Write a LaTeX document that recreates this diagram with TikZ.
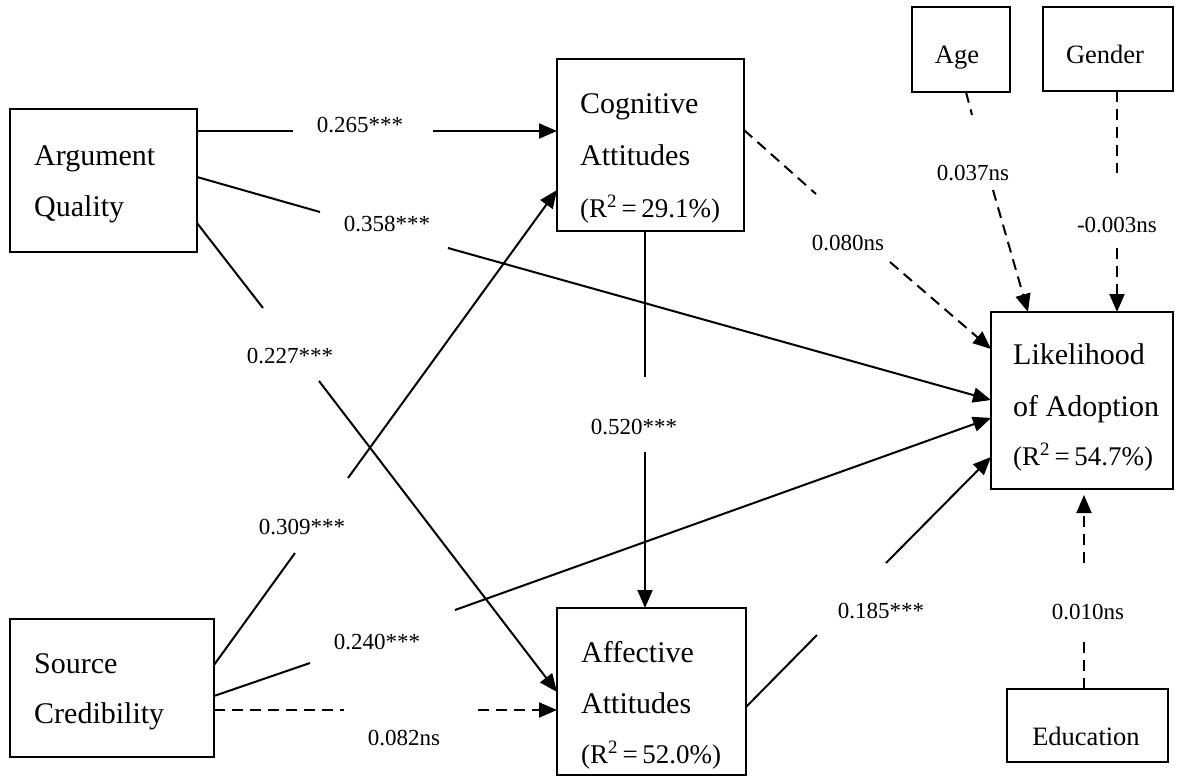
\documentclass[tikz,border=0pt]{standalone}
\usepackage{fontspec}
\setmainfont{Liberation Serif}
\usetikzlibrary{arrows.meta}

\tikzset{
  box/.style={draw, line width=2.6pt, inner sep=0pt, outer sep=0pt},
  main/.style={font=\fontsize{30}{36}\selectfont, inner sep=0pt, anchor=base west},
  rline/.style={font=\fontsize{27}{32}\selectfont, inner sep=0pt, anchor=base west},
  ctrl/.style={font=\fontsize{26.5}{32}\selectfont, inner sep=0pt, anchor=base},
  lbl/.style={font=\fontsize{23}{28}\selectfont, inner sep=0pt, anchor=base},
  conn/.style={line width=2pt},
  dsh/.style={dash pattern=on 11pt off 7pt},
  arr/.style={-{Triangle[length=18pt,width=15pt]}},
}

\newcommand{\rsq}[1]{(R\textsuperscript{2}\,=\,#1\%)}

\begin{document}
\begin{tikzpicture}[x=1pt, y=-1pt]
  \useasboundingbox[fill=white] (0,0) rectangle (1179,777);

  % ---- constructs ----
  \node[box, minimum width=187pt, minimum height=143pt] (aq) at (103.5,180.5) {};
  \node[box, minimum width=204pt, minimum height=138pt] (sc) at (112,688) {};
  \node[box, minimum width=187pt, minimum height=172pt] (ca) at (650.5,145) {};
  \node[box, minimum width=189pt, minimum height=167pt] (af) at (651.5,691.5) {};
  \node[box, minimum width=182pt, minimum height=177pt] (lo) at (1082,400.5) {};
  \node[box, minimum width=98pt,  minimum height=85pt]  (age) at (961,49.5) {};
  \node[box, minimum width=130pt, minimum height=84pt]  (gen) at (1108,49) {};
  \node[box, minimum width=161pt, minimum height=73pt]  (edu) at (1087.5,725.5) {};

  % ---- construct texts ----
  \node[main] (aq1) at (34,165) {Argument};
  \node[main] (aq2) at (34,216) {Quality};
  \node[main] (sc1) at (34,673) {Source};
  \node[main] (sc2) at (34,723) {Credibility};
  \node[main] (ca1) at (580,113) {Cognitive};
  \node[main] (ca2) at (580,165) {Attitudes};
  \node[rline] (ca3) at (580,217) {\rsq{29.1}};
  \node[main] (af1) at (581,662) {Affective};
  \node[main] (af2) at (581,713) {Attitudes};
  \node[rline] (af3) at (581,763) {\rsq{52.0}};
  \node[main] (lo1) at (1013,364) {Likelihood};
  \node[main] (lo2) at (1013,416) {of Adoption};
  \node[rline] (lo3) at (1013,465) {\rsq{54.7}};
  \node[ctrl] (age1) at (957,63) {Age};
  \node[ctrl] (gen1) at (1105,63) {Gender};
  \node[ctrl] (edu1) at (1086,745) {Education};

  % ---- gap ends of the broken paths ----
  \coordinate (g1a) at (293,131);  \coordinate (g1b) at (433,131);
  \coordinate (g2a) at (320,212);  \coordinate (g2b) at (448,248);
  \coordinate (g3a) at (263,308);  \coordinate (g3b) at (319,381);
  \coordinate (g4a) at (295,553);  \coordinate (g4b) at (348,478);
  \coordinate (g5a) at (310,663);  \coordinate (g5b) at (455,610);
  \coordinate (g6a) at (344,710);  \coordinate (g6b) at (478,710);
  \coordinate (g7a) at (645,377);  \coordinate (g7b) at (645,452);
  \coordinate (g8a) at (816,194);  \coordinate (g8b) at (890,262);
  \coordinate (g9a) at (817,635);  \coordinate (g9b) at (886,563);
  \coordinate (g10a) at (972,115); \coordinate (g10b) at (993,190);
  \coordinate (g11a) at (1117,173); \coordinate (g11b) at (1117,248);
  \coordinate (g12a) at (1084,637); \coordinate (g12b) at (1084,563);

  % ---- paths ----
  % Argument Quality -> Cognitive Attitudes
  \draw[conn] ([yshift=-22pt]aq.north east) -- (g1a);
  \draw[conn,arr] (g1b) -- ([yshift=-72pt]ca.north west);
  % Argument Quality -> Likelihood of Adoption
  \draw[conn] ([yshift=-68pt]aq.north east) -- (g2a);
  \draw[conn,arr] (g2b) -- ([yshift=-88pt]lo.north west);
  % Argument Quality -> Affective Attitudes
  \draw[conn] ([yshift=-114pt]aq.north east) -- (g3a);
  \draw[conn,arr] (g3b) -- ([yshift=-84pt]af.north west);
  % Source Credibility -> Cognitive Attitudes
  \draw[conn] ([yshift=-46pt]sc.north east) -- (g4a);
  \draw[conn,arr] (g4b) -- ([yshift=-131pt]ca.north west);
  % Source Credibility -> Likelihood of Adoption
  \draw[conn] ([yshift=-77pt]sc.north east) -- (g5a);
  \draw[conn,arr] (g5b) -- ([yshift=-106pt]lo.north west);
  % Source Credibility -> Affective Attitudes (n.s.)
  \draw[conn,dsh] ([yshift=-91pt]sc.north east) -- (g6a);
  \draw[conn,dsh,arr] (g6b) -- ([yshift=-102pt]af.north west);
  % Cognitive -> Affective
  \draw[conn] ([xshift=-5.5pt]ca.south) -- (g7a);
  \draw[conn,arr] (g7b) -- ([xshift=-6.5pt]af.north);
  % Cognitive -> Likelihood (n.s.)
  \draw[conn,dsh] ([yshift=-71pt]ca.north east) -- (g8a);
  \draw[conn,dsh,arr] (g8b) -- ([yshift=-37pt]lo.north west);
  % Affective -> Likelihood
  \draw[conn] ([yshift=-99pt]af.north east) -- (g9a);
  \draw[conn,arr] (g9b) -- ([yshift=-145pt]lo.north west);
  % controls
  \draw[conn,dsh] ([xshift=5pt]age.south) -- (g10a);
  \draw[conn,dsh,arr] (g10b) -- ([xshift=-54pt]lo.north);
  \draw[conn,dsh] ([xshift=9pt]gen.south) -- (g11a);
  \draw[conn,dsh,arr] (g11b) -- ([xshift=35pt]lo.north);
  \draw[conn,dsh] ([xshift=-3.5pt]edu.north) -- (g12a);
  \draw[conn,dsh,arr,shorten >=6pt] (g12b) -- ([xshift=2pt]lo.south);

  % ---- path coefficients ----
  \node[lbl] (c1) at (360,132) {0.265***};
  \node[lbl] (c2) at (387,231) {0.358***};
  \node[lbl] (c3) at (290,363) {0.227***};
  \node[lbl] (c4) at (302,534) {0.309***};
  \node[lbl] (c5) at (377,649) {0.240***};
  \node[lbl] (c6) at (404,745) {0.082ns};
  \node[lbl] (c7) at (634,434) {0.520***};
  \node[lbl] (c8) at (848,250) {0.080ns};
  \node[lbl] (c9) at (881,618) {0.185***};
  \node[lbl] (c10) at (973,180) {0.037ns};
  \node[lbl] (c11) at (1117,232) {-0.003ns};
  \node[lbl] (c12) at (1088,619) {0.010ns};
\end{tikzpicture}
\end{document}
